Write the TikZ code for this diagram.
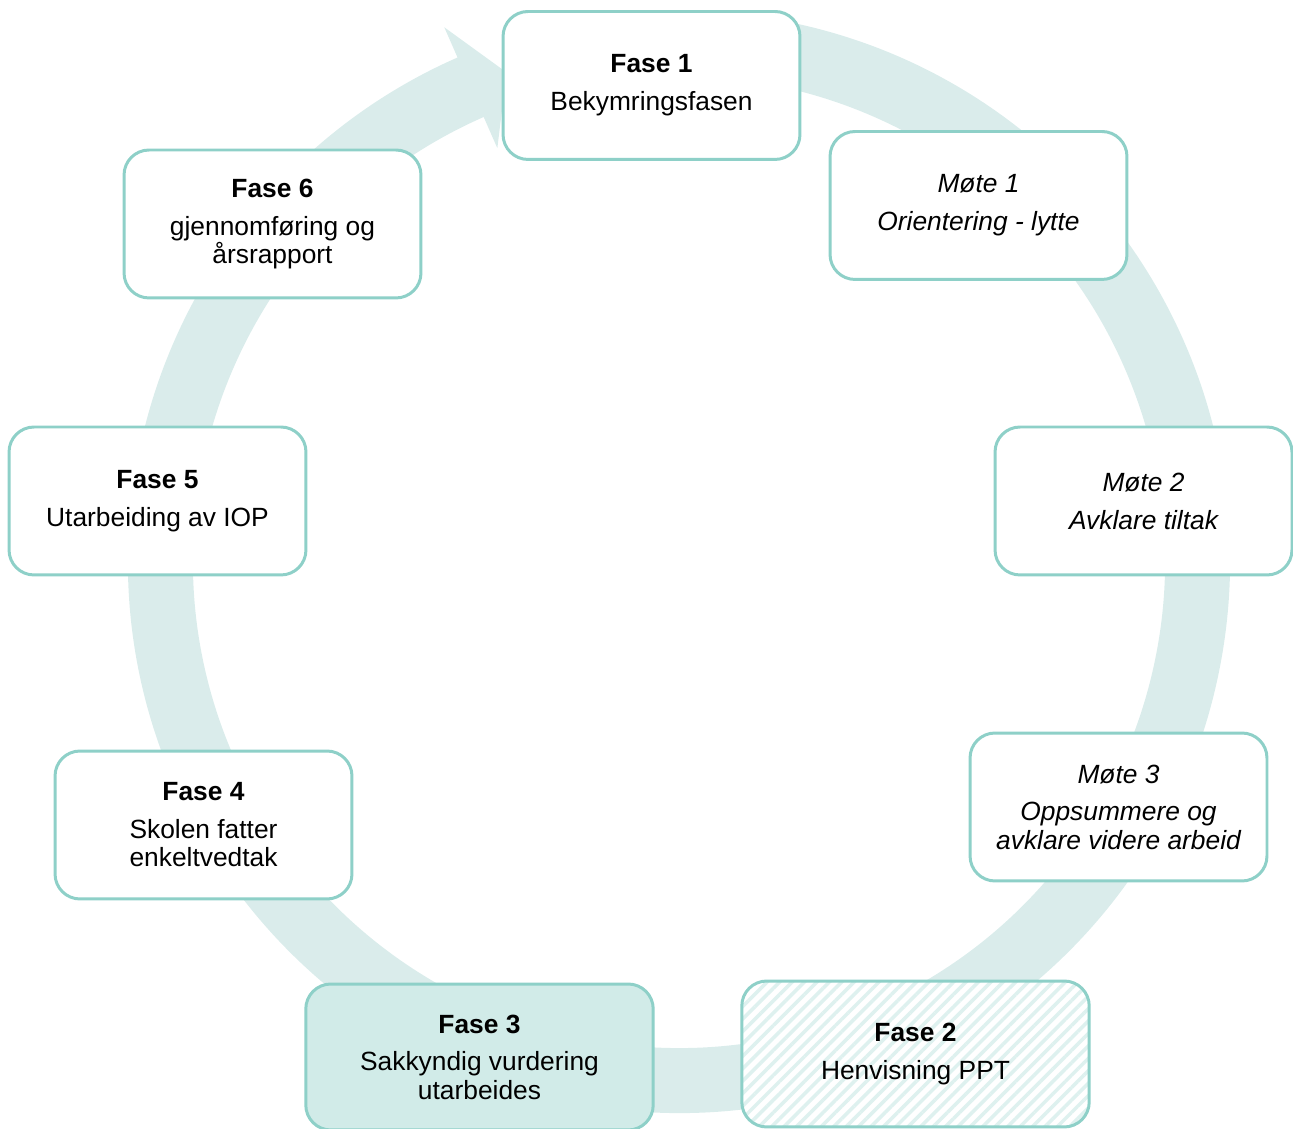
\documentclass[tikz,border=0pt]{standalone}
\usepackage{fontspec}
\setmainfont{Liberation Sans}
\usetikzlibrary{calc,patterns.meta}
\definecolor{ringteal}{RGB}{218,236,235}
\definecolor{lineteal}{RGB}{142,208,200}
\definecolor{fillteal}{RGB}{209,235,232}
\definecolor{hatchteal}{RGB}{222,241,239}
\tikzset{
  phase/.style={draw=lineteal,line width=1.7pt,rounded corners=0.5cm,fill=white,
    minimum width=5.94cm,minimum height=2.96cm,align=center,
    font=\fontsize{15}{16}\selectfont},
  meet/.style={phase,font=\fontsize{15}{16}\selectfont\itshape},
  wide/.style={minimum width=6.95cm,minimum height=2.92cm}
}
\newcommand*{\phasetext}[2]{{\bfseries #1}\\[5.6pt]#2}

\begin{document}
\begin{tikzpicture}[x=0.02cm,y=0.02cm]
\useasboundingbox (0,0) rectangle (1293,1128);
\coordinate (C) at (679,566);
% ring with arrow head at the top
\fill[ringteal] (C) ++(80:551) arc[start angle=80,end angle=-246.3,radius=551]
  -- ($(C)+(113.7:584)$) -- ($(C)+(109.4:519)$) -- ($(C)+(113.7:452)$)
  -- ($(C)+(113.7:486)$) arc[start angle=-246.3,end angle=80,radius=486] -- cycle;
\node[phase] (f1) at (651.5,1042.5) {\phasetext{Fase 1}{Bekymringsfasen}};
\node[meet] (m1) at (978.5,922.5) {Møte 1\\[5.6pt]Orientering - lytte};
\node[meet] (m2) at (1143.5,627) {Møte 2\\[5.6pt]Avklare tiltak};
\node[meet] (m3) at (1118.5,321) {Møte 3\\[5.6pt]Oppsummere og\\avklare videre arbeid};
\node[phase,wide,preaction={fill=white},
  pattern={Lines[angle=45,distance=5pt,line width=2pt]},pattern color=hatchteal]
  (f2) at (915.5,74) {\phasetext{Fase 2}{Henvisning PPT}};
\node[phase,wide,fill=fillteal] (f3) at (479.5,71) {\phasetext{Fase 3}{Sakkyndig vurdering\\utarbeides}};
\node[phase] (f4) at (203.5,303) {\phasetext{Fase 4}{Skolen fatter\\enkeltvedtak}};
\node[phase] (f5) at (157.5,627) {\phasetext{Fase 5}{Utarbeiding av IOP}};
\node[phase] (f6) at (272.5,904) {\phasetext{Fase 6}{gjennomføring og\\årsrapport}};
\end{tikzpicture}
\end{document}
